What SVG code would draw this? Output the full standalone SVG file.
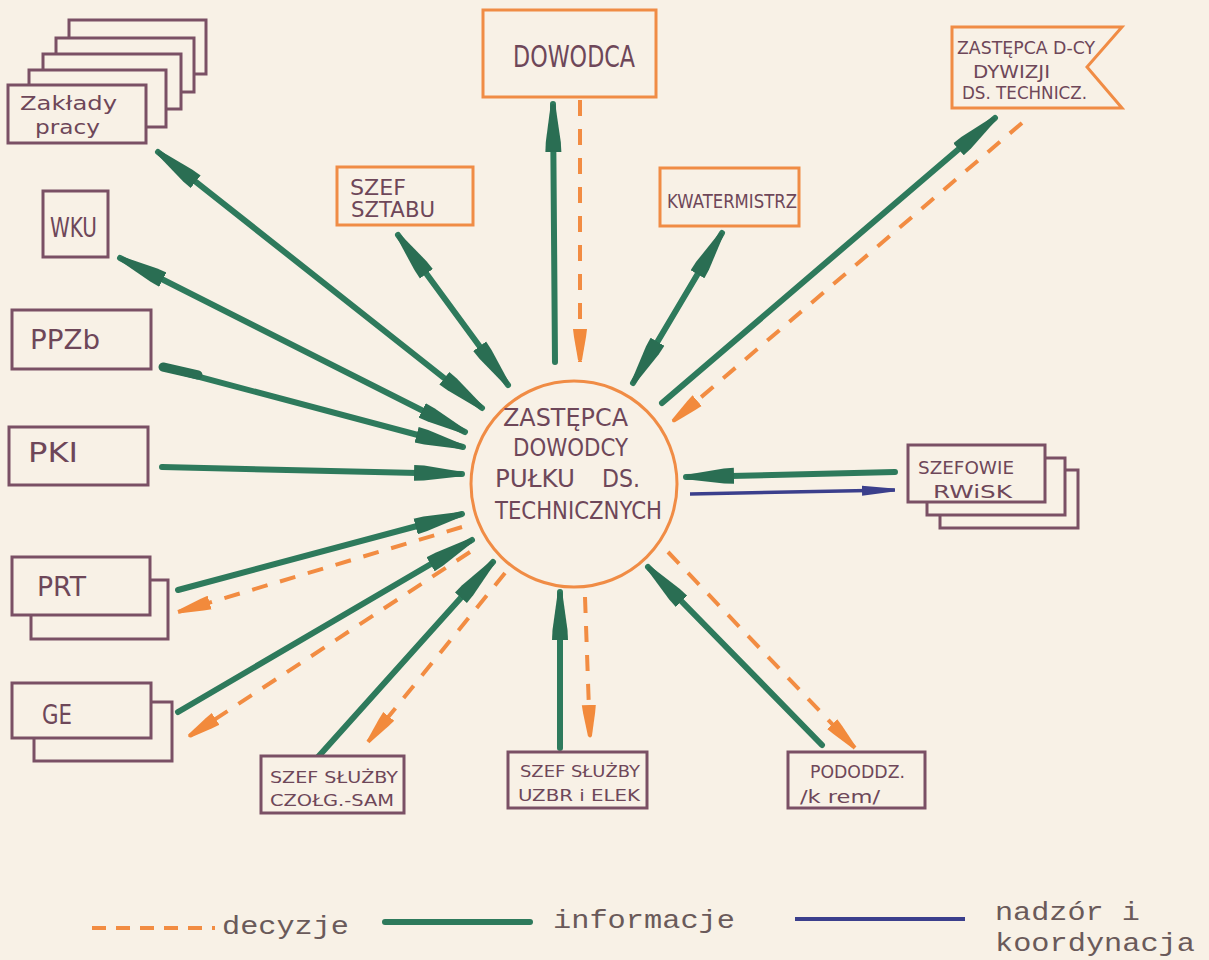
<svg xmlns="http://www.w3.org/2000/svg" width="1209" height="960" viewBox="0 0 1209 960">
<style>
.bx{fill:#f8f1e6;stroke:#7a5065;stroke-width:3}
.ob{fill:#f8f1e6;stroke:#f08c45;stroke-width:3}
.t{font-family:"DejaVu Sans","Liberation Sans",sans-serif;fill:#6e4759}
.g{fill:none;stroke:#2e7a5c;stroke-width:6;stroke-linecap:round}
.o{fill:none;stroke:#f28c42;stroke-width:4;stroke-dasharray:16 13}
.b{fill:none;stroke:#3b3f8c;stroke-width:3.5}
.lg{font-family:"Liberation Mono","DejaVu Sans Mono",monospace;font-size:26px;fill:#6a5a5a}
</style>
<defs>
<marker id="ag" markerUnits="userSpaceOnUse" markerWidth="52" markerHeight="24" viewBox="0 -12 52 24" refX="48" refY="0" orient="auto-start-reverse">
<path d="M0,-8 L10,-7.5 L46,-2.5 Q50,0 46,2.5 L10,7.5 L0,8 Z" fill="#2a6e53"/>
</marker>
<marker id="ao" markerUnits="userSpaceOnUse" markerWidth="36" markerHeight="20" viewBox="0 -10 36 20" refX="33" refY="0" orient="auto-start-reverse">
<path d="M0,-7 L8,-6 L31,-2 Q34,0 31,2 L8,6 L0,7 Z" fill="#f28a3c"/>
</marker>
<marker id="ab" markerUnits="userSpaceOnUse" markerWidth="36" markerHeight="16" viewBox="0 -8 36 16" refX="33" refY="0" orient="auto-start-reverse">
<path d="M0,-5 L32,-1.5 Q34,0 32,1.5 L0,5 Z" fill="#3b3f8c"/>
</marker>
</defs>
<rect width="1209" height="960" fill="#f8f1e6"/>

<g id="connectors">
<path class="g" d="M158,152 L482,408" marker-start="url(#ag)" marker-end="url(#ag)"/>
<path class="g" d="M120,258 L465,432" marker-start="url(#ag)" marker-end="url(#ag)"/>
<path class="g" d="M162,367 L463,447" marker-end="url(#ag)"/>
<path d="M163,367 L198,375" stroke="#2a6e53" stroke-width="9" stroke-linecap="round"/>
<path class="g" d="M162,467 L462,474" marker-end="url(#ag)"/>
<path class="g" d="M398,235 L508,385" marker-start="url(#ag)" marker-end="url(#ag)"/>
<path class="g" d="M555,362 L553,104" marker-end="url(#ag)"/>
<path class="o" d="M580,100 L580,362" marker-end="url(#ao)"/>
<path class="g" d="M722,233 L633,383" marker-start="url(#ag)" marker-end="url(#ag)"/>
<path class="g" d="M662,403 L995,118" marker-end="url(#ag)"/>
<path class="o" d="M1022,123 L672,422" marker-end="url(#ao)"/>
<path class="g" d="M895,472 L686,477" marker-end="url(#ag)"/>
<path class="b" d="M690,494 L895,490" marker-end="url(#ab)"/>
<path class="g" d="M822,745 L648,567" marker-end="url(#ag)"/>
<path class="o" d="M668,552 L855,748" marker-end="url(#ao)"/>
<path class="g" d="M560,748 L560,592" marker-end="url(#ag)"/>
<path class="o" d="M585,597 L590,738" marker-end="url(#ao)"/>
<path class="g" d="M318,757 L493,562" marker-end="url(#ag)"/>
<path class="o" d="M505,573 L368,742" marker-end="url(#ao)"/>
<path class="g" d="M178,712 L472,540" marker-end="url(#ag)"/>
<path class="o" d="M470,552 L188,737" marker-end="url(#ao)"/>
<path class="g" d="M178,590 L462,514" marker-end="url(#ag)"/>
<path class="o" d="M462,527 L178,612" marker-end="url(#ao)"/>
</g>

<g id="center">
<circle cx="574" cy="484" r="103" fill="none" stroke="#f08c45" stroke-width="3"/>
<text class="t" x="503" y="426" font-size="24" textLength="125" lengthAdjust="spacingAndGlyphs">ZASTĘPCA</text>
<text class="t" x="513" y="456" font-size="24" textLength="115" lengthAdjust="spacingAndGlyphs">DOWODCY</text>
<text class="t" x="495" y="487" font-size="24" textLength="80" lengthAdjust="spacingAndGlyphs">PUŁKU</text>
<text class="t" x="602" y="487" font-size="24" textLength="38" lengthAdjust="spacingAndGlyphs">DS.</text>
<text class="t" x="495" y="519" font-size="24" textLength="167" lengthAdjust="spacingAndGlyphs">TECHNICZNYCH</text>
</g>

<g id="zaklady">
<rect class="bx" x="69" y="20" width="137" height="54"/>
<rect class="bx" x="56" y="38" width="138" height="54"/>
<rect class="bx" x="43" y="54" width="138" height="55"/>
<rect class="bx" x="29" y="70" width="137" height="57"/>
<rect class="bx" x="8" y="85" width="138" height="58"/>
<text class="t" x="20" y="110" font-size="20" textLength="97" lengthAdjust="spacingAndGlyphs">Zakłady</text>
<text class="t" x="35" y="134" font-size="20" textLength="65" lengthAdjust="spacingAndGlyphs">pracy</text>
</g>

<g id="wku">
<rect class="bx" x="43" y="191" width="65" height="66"/>
<text class="t" x="50" y="237" font-size="26" textLength="47" lengthAdjust="spacingAndGlyphs">WKU</text>
</g>

<g id="ppzb">
<rect class="bx" x="12" y="310" width="139" height="59"/>
<text class="t" x="30" y="349" font-size="26" textLength="70" lengthAdjust="spacingAndGlyphs">PPZb</text>
</g>

<g id="pki">
<rect class="bx" x="9" y="427" width="139" height="58"/>
<text class="t" x="28" y="462" font-size="26" textLength="50" lengthAdjust="spacingAndGlyphs">PKI</text>
</g>

<g id="prt">
<rect class="bx" x="31" y="580" width="137" height="59"/>
<rect class="bx" x="12" y="557" width="138" height="58"/>
<text class="t" x="37" y="596" font-size="26" textLength="49" lengthAdjust="spacingAndGlyphs">PRT</text>
</g>

<g id="ge">
<rect class="bx" x="34" y="702" width="138" height="59"/>
<rect class="bx" x="12" y="683" width="139" height="55"/>
<text class="t" x="42" y="724" font-size="26" textLength="30" lengthAdjust="spacingAndGlyphs">GE</text>
</g>

<g id="dowodca">
<rect class="ob" x="483" y="10" width="173" height="87"/>
<text class="t" x="513" y="67" font-size="30" textLength="122" lengthAdjust="spacingAndGlyphs">DOWODCA</text>
</g>

<g id="szef-sztabu">
<rect class="ob" x="337" y="167" width="136" height="58"/>
<text class="t" x="350" y="195" font-size="21" textLength="56" lengthAdjust="spacingAndGlyphs">SZEF</text>
<text class="t" x="351" y="217" font-size="21" textLength="84" lengthAdjust="spacingAndGlyphs">SZTABU</text>
</g>

<g id="kwatermistrz">
<rect class="ob" x="660" y="168" width="139" height="58"/>
<text class="t" x="667" y="208" font-size="20" textLength="130" lengthAdjust="spacingAndGlyphs">KWATERMISTRZ</text>
</g>

<g id="zastepca-dywizji">
<path class="ob" d="M952,27 L1122,27 L1087,67 L1122,108 L952,108 Z"/>
<text class="t" x="957" y="54" font-size="17" textLength="138" lengthAdjust="spacingAndGlyphs">ZASTĘPCA D-CY</text>
<text class="t" x="973" y="78" font-size="17" textLength="77" lengthAdjust="spacingAndGlyphs">DYWIZJI</text>
<text class="t" x="962" y="99" font-size="17" textLength="125" lengthAdjust="spacingAndGlyphs">DS. TECHNICZ.</text>
</g>

<g id="szefowie">
<rect class="bx" x="940" y="470" width="138" height="58"/>
<rect class="bx" x="927" y="458" width="138" height="57"/>
<rect class="bx" x="908" y="445" width="137" height="57"/>
<text class="t" x="918" y="474" font-size="18" textLength="96" lengthAdjust="spacingAndGlyphs">SZEFOWIE</text>
<text class="t" x="933" y="498" font-size="18" textLength="79" lengthAdjust="spacingAndGlyphs">RWiSK</text>
</g>

<g id="szef-czolg">
<rect class="bx" x="261" y="756" width="143" height="57"/>
<text class="t" x="270" y="783" font-size="16" textLength="128" lengthAdjust="spacingAndGlyphs">SZEF SŁUŻBY</text>
<text class="t" x="270" y="806" font-size="16" textLength="124" lengthAdjust="spacingAndGlyphs">CZOŁG.-SAM</text>
</g>

<g id="szef-uzbr">
<rect class="bx" x="508" y="752" width="139" height="56"/>
<text class="t" x="520" y="777" font-size="16" textLength="120" lengthAdjust="spacingAndGlyphs">SZEF SŁUŻBY</text>
<text class="t" x="518" y="801" font-size="16" textLength="122" lengthAdjust="spacingAndGlyphs">UZBR i ELEK</text>
</g>

<g id="pododdz">
<rect class="bx" x="788" y="752" width="137" height="56"/>
<text class="t" x="810" y="778" font-size="17" textLength="95" lengthAdjust="spacingAndGlyphs">PODODDZ.</text>
<text class="t" x="800" y="803" font-size="17" textLength="80" lengthAdjust="spacingAndGlyphs">/k rem/</text>
</g>

<g id="legend">
<path d="M92,928 L215,928" stroke="#f28c42" stroke-width="4" stroke-dasharray="14 10"/>
<text class="lg" x="222" y="934" textLength="127" lengthAdjust="spacingAndGlyphs">decyzje</text>
<path d="M385,922 L530,922" stroke="#2e7a5c" stroke-width="6" stroke-linecap="round"/>
<text class="lg" x="553" y="928" textLength="182" lengthAdjust="spacingAndGlyphs">informacje</text>
<path d="M795,919 L965,919" stroke="#3b3f8c" stroke-width="4"/>
<text class="lg" x="995" y="920" textLength="145" lengthAdjust="spacingAndGlyphs">nadzór i</text>
<text class="lg" x="995" y="951" textLength="200" lengthAdjust="spacingAndGlyphs">koordynacja</text>
</g>
</svg>
